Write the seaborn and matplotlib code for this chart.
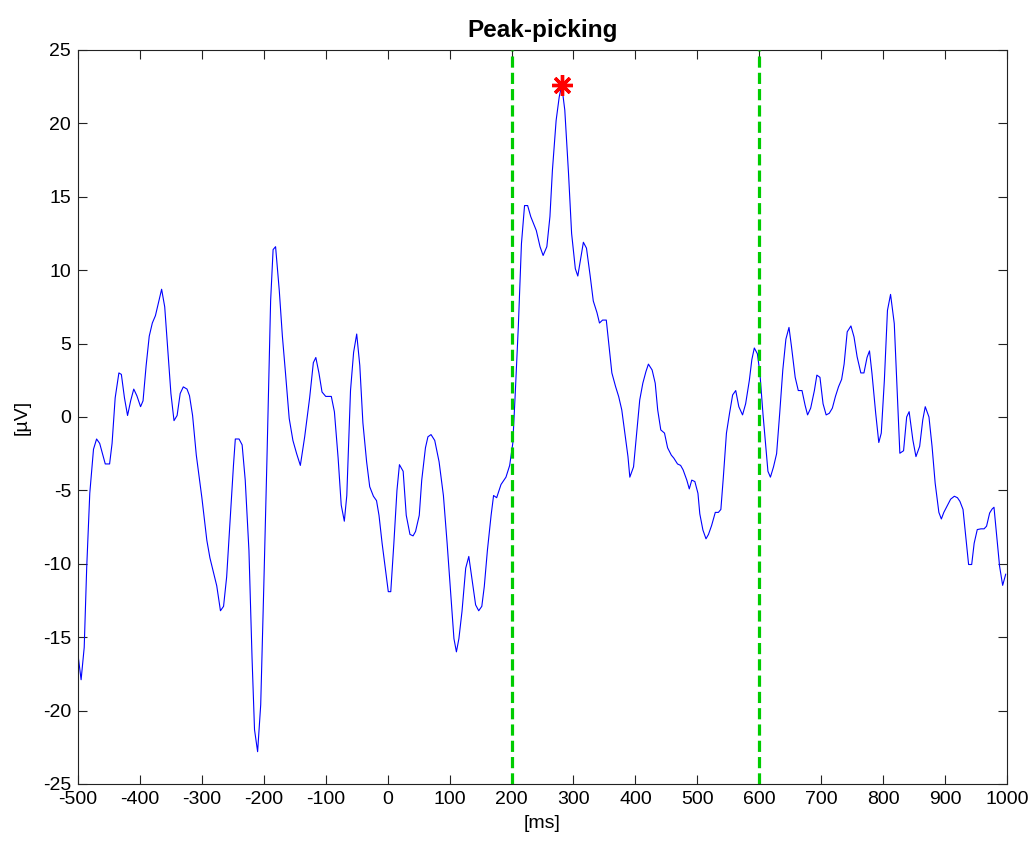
import matplotlib
matplotlib.use("Agg")
import matplotlib.pyplot as plt
import numpy as np
import pandas as pd
import seaborn as sns

# ERP waveform (time in ms, amplitude in uV)
time_ms = [
    -500, -495, -490, -486, -481, -475, -470, -465, -456, -449, -445, -440, -434, -430, -425,
    -420, -415, -410, -405, -399, -395, -390, -385, -380, -375, -369, -365, -360, -355, -350,
    -345, -340, -335, -330, -324, -320, -315, -309, -300, -292, -287, -276, -270, -265, -260,
    -255, -249, -246, -240, -235, -230, -224, -219, -215, -210, -205, -200, -195, -189, -185,
    -181, -175, -170, -165, -159, -153, -147, -141, -134, -126, -120, -116, -111, -106, -100,
    -91, -86, -80, -75, -70, -66, -60, -55, -50, -45, -40, -34, -29, -23, -18,
    -14, -9, -3, 1, 5, 10, 15, 19, 25, 30, 36, 41, 45, 51, 55,
    61, 65, 70, 76, 83, 90, 96, 101, 107, 111, 115, 120, 126, 131, 137,
    142, 147, 152, 156, 161, 167, 171, 176, 183, 191, 197, 202, 206, 211, 216,
    221, 226, 231, 240, 246, 251, 257, 262, 266, 272, 277, 281, 286, 292, 297,
    303, 307, 312, 316, 321, 327, 332, 338, 342, 347, 353, 358, 362, 368, 373,
    378, 383, 388, 391, 397, 402, 407, 412, 417, 421, 427, 432, 436, 441, 447,
    452, 458, 462, 468, 473, 477, 483, 487, 491, 496, 501, 504, 509, 514, 518,
    523, 529, 534, 538, 542, 547, 552, 557, 562, 567, 573, 578, 584, 588, 592,
    597, 601, 606, 611, 614, 618, 623, 628, 633, 638, 643, 648, 652, 658, 663,
    669, 674, 678, 683, 689, 693, 698, 703, 708, 713, 718, 723, 728, 733, 737,
    742, 748, 753, 758, 764, 769, 774, 778, 782, 788, 793, 797, 802, 807, 812,
    818, 822, 827, 833, 838, 842, 848, 853, 859, 864, 868, 874, 879, 884, 890,
    894, 898, 904, 909, 915, 920, 924, 929, 934, 938, 943, 947, 952, 958, 963,
    967, 972, 976, 979, 983, 988, 993, 998,
]
amplitude_uv = [
    -16.2, -17.9, -15.7, -10.3, -5.2, -2.2, -1.5, -1.8, -3.2, -3.2, -1.8, 1.3, 3.0, 2.9, 1.3,
    0.1, 1.1, 1.9, 1.45, 0.7, 1.1, 3.5, 5.5, 6.4, 6.9, 8.0, 8.7, 7.5, 4.5, 1.6,
    -0.25, 0.1, 1.6, 2.05, 1.9, 1.45, 0.1, -2.6, -5.5, -8.4, -9.6, -11.5, -13.2, -12.9, -10.9,
    -7.4, -3.3, -1.5, -1.5, -1.9, -4.3, -9.1, -16.4, -21.3, -22.8, -19.6, -11.5, -3.0, 7.9, 11.4,
    11.6, 8.6, 5.5, 3.0, -0.1, -1.6, -2.5, -3.3, -1.35, 1.3, 3.7, 4.05, 3.0, 1.7, 1.4,
    1.4, 0.35, -2.8, -6.0, -7.1, -5.35, 1.8, 4.4, 5.65, 3.5, -0.4, -3.05, -4.75, -5.4, -5.7,
    -6.7, -8.6, -10.6, -11.9, -11.9, -8.6, -5.0, -3.25, -3.7, -6.7, -8.0, -8.1, -7.8, -6.7, -4.3,
    -2.1, -1.35, -1.2, -1.6, -3.05, -5.35, -8.6, -11.55, -15.1, -16.0, -15.1, -13.25, -10.3, -9.5, -11.3,
    -12.8, -13.2, -12.9, -11.55, -9.1, -6.7, -5.35, -5.5, -4.6, -4.1, -3.3, -1.8, 1.6, 6.2, 11.8,
    14.4, 14.4, 13.65, 12.7, 11.6, 11.0, 11.6, 13.65, 16.8, 20.2, 21.8, 22.6, 20.9, 16.6, 12.5,
    10.1, 9.6, 10.9, 11.9, 11.5, 9.6, 7.9, 7.1, 6.4, 6.6, 6.6, 4.6, 3.0, 2.07, 1.39,
    0.48, -1.1, -2.7, -4.1, -3.4, -1.1, 1.16, 2.3, 3.09, 3.6, 3.2, 2.3, 0.48, -0.88, -1.1,
    -2.1, -2.6, -2.8, -3.2, -3.3, -3.6, -4.3, -4.9, -4.3, -4.4, -5.2, -6.6, -7.7, -8.3, -8.0,
    -7.4, -6.5, -6.5, -6.3, -4.1, -1.1, 0.25, 1.5, 1.8, 0.7, 0.14, 0.9, 2.5, 3.9, 4.7,
    4.3, 3.0, 0.2, -2.2, -3.7, -4.1, -3.4, -2.5, 0.25, 3.2, 5.3, 6.1, 4.8, 2.7, 1.8,
    1.8, 0.8, 0.14, 0.6, 1.8, 2.85, 2.7, 0.9, 0.14, 0.25, 0.6, 1.4, 2.06, 2.56, 3.6,
    5.8, 6.2, 5.45, 4.1, 3.0, 3.0, 4.05, 4.5, 2.96, 0.25, -1.74, -1.1, 2.5, 7.26, 8.35,
    6.36, 2.5, -2.47, -2.3, 0.0, 0.36, -1.56, -2.7, -2.0, -0.2, 0.7, 0.0, -2.0, -4.5, -6.5,
    -6.95, -6.5, -6.0, -5.6, -5.4, -5.5, -5.75, -6.3, -8.35, -10.05, -10.05, -8.6, -7.67, -7.62, -7.62,
    -7.44, -6.54, -6.27, -6.15, -7.9, -10.16, -11.47, -10.7,
]
search_window = [200, 600]

df = pd.DataFrame({"time": time_ms, "amp": amplitude_uv})

sns.set_style("ticks")
plt.rcParams["font.family"] = ["Liberation Sans", "DejaVu Sans"]
plt.rcParams["axes.unicode_minus"] = False
plt.rcParams["text.color"] = "black"
plt.rcParams["axes.labelcolor"] = "black"

fig = plt.figure(figsize=(10.36, 8.41), dpi=100)
ax = fig.add_axes([0.0753, 0.0678, 0.8967, 0.8728])

sns.lineplot(data=df, x="time", y="amp", color="#0000ff", linewidth=0.8, ax=ax)

for w in search_window:
    ax.axvline(w, color="#00cc00", linewidth=2.3, dashes=(3.5, 1.6), zorder=3)

# peak inside the search window
win = df[(df["time"] >= search_window[0]) & (df["time"] <= search_window[1])]
peak = win.loc[win["amp"].idxmax()]
ax.plot(peak["time"], peak["amp"], marker=(8, 2, 0), color="red", markersize=15,
        markeredgewidth=2.4, zorder=4)

ax.set_xlim(-500, 1000)
ax.set_ylim(-25, 25)
ax.set_xticks(np.arange(-500, 1001, 100))
ax.set_yticks(np.arange(-25, 26, 5))
ax.tick_params(direction="in", length=6.5, width=0.8, labelsize=14, pad=5,
               top=True, right=True, colors="#222222", labelcolor="black")
for s in ax.spines.values():
    s.set_visible(True)
    s.set_linewidth(0.8)
    s.set_color("#222222")

ax.set_title("Peak-picking", fontsize=17.5, fontweight="bold", pad=9, color="black")
ax.set_xlabel("[ms]", fontsize=14, labelpad=5)
ax.set_ylabel("[\u00b5V]", fontsize=14, labelpad=9)

fig.savefig("out.png", dpi=100)
